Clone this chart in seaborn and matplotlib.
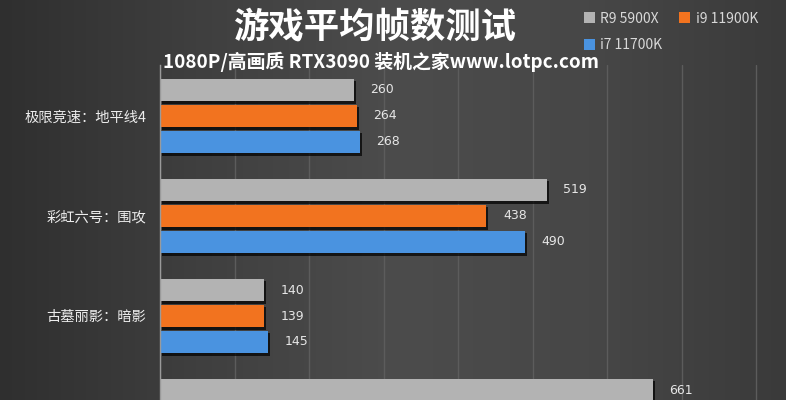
import numpy as np
import pandas as pd
import matplotlib
matplotlib.use("Agg")
import matplotlib.pyplot as plt
import seaborn as sns
from matplotlib import patheffects as pe
from matplotlib.colors import LinearSegmentedColormap

# data (4th game is cut off at the bottom)
games = ["极限竞速：地平线4", "彩虹六号：围攻", "古墓丽影：暗影", ""]
cpus = ["R9 5900X", "i9 11900K", "i7 11700K"]
fps_r9 = [260, 519, 140, 661]
fps_i9 = [264, 438, 139, np.nan]
fps_i7 = [268, 490, 145, np.nan]
colors = ["#b3b3b3", "#f2731f", "#4a93e0"]

df = pd.DataFrame({
    "game": games * 3,
    "cpu": [cpus[0]] * 4 + [cpus[1]] * 4 + [cpus[2]] * 4,
    "fps": fps_r9 + fps_i9 + fps_i7,
}).dropna()

sns.set_theme(style="dark")
plt.rcParams["font.family"] = ["Noto Sans CJK SC", "DejaVu Sans"]

fig = plt.figure(figsize=(7.86, 4.0), dpi=100)

# dark gradient background
bg = fig.add_axes([0, 0, 1, 1], zorder=-10)
cmap = LinearSegmentedColormap.from_list("bg", ["#2f2f2f", "#3f3f3f", "#4c4c4c", "#474747", "#3a3a3a"])
bg.imshow(np.linspace(0, 1, 256).reshape(1, -1), aspect="auto", cmap=cmap, extent=[0, 1, 0, 1])
bg.axis("off")

ax = fig.add_axes([160 / 786, 0, 1 - 160 / 786, 335 / 400])
ax.set_facecolor("none")

sns.barplot(data=df, y="game", x="fps", hue="cpu", order=games, hue_order=cpus,
            palette=colors, saturation=1, orient="h", width=0.78, gap=0.12, ax=ax,
            edgecolor="none", linewidth=0, legend=True)

shadow = [pe.SimplePatchShadow(offset=(1.5, -2), shadow_rgbFace="black", alpha=0.7), pe.Normal()]
for cont in ax.containers:
    for bar in cont:
        bar.set_path_effects(shadow)
    ax.bar_label(cont, padding=12, color="#e6e6e6", fontsize=9, family="DejaVu Sans")

ax.set_xlim(0, 840)
ax.set_ylim(2.84, -0.51)
ax.set_xticks(np.arange(0, 900, 100))
ax.set_xticklabels([])
ax.tick_params(axis="x", length=0)
ax.tick_params(axis="y", length=0, pad=10, labelsize=10.3, labelcolor="#ededed")
ax.set_xlabel("")
ax.set_ylabel("")
ax.grid(axis="x", color="#5c5c5c", linewidth=1)
ax.grid(axis="y", visible=False)
for s in ["top", "right", "bottom"]:
    ax.spines[s].set_visible(False)
ax.spines["left"].set_color("#9a9a9a")
ax.spines["left"].set_linewidth(1)

# legend: gray + blue in first column, orange in second
handles, labels = ax.get_legend_handles_labels()
ax.get_legend().remove()
order = [0, 2, 1]
fig.legend([handles[i] for i in order], [labels[i] for i in order],
           loc="upper left", bbox_to_anchor=(578 / 786, 1 - 6 / 400), ncol=2,
           frameon=False, fontsize=10, labelcolor="#d8d8d8",
           handlelength=0.8, handleheight=0.8, handletextpad=0.4,
           columnspacing=1.2, labelspacing=0.9, borderaxespad=0)

fig.text(375 / 786, 1 - 28 / 400, "游戏平均帧数测试", ha="center", va="center",
         fontsize=25.5, fontweight="bold", color="white")
fig.text(163 / 786, 1 - 62 / 400, "1080P/高画质 RTX3090 装机之家www.lotpc.com",
         ha="left", va="center", fontsize=13.6, fontweight="bold", color="white")

fig.savefig("out.png", dpi=100)
